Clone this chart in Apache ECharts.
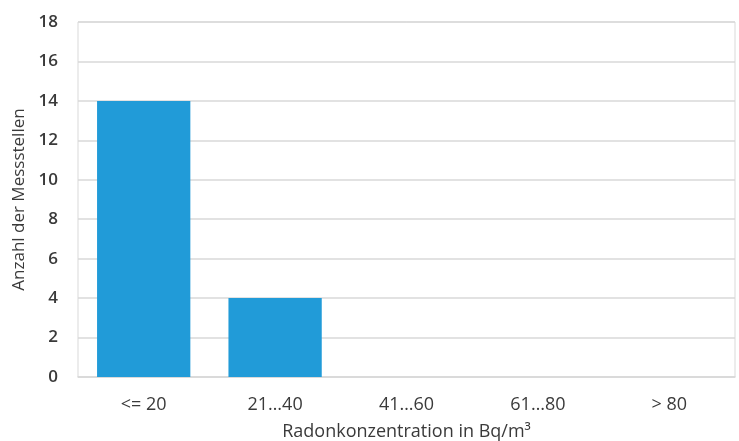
<!DOCTYPE html>
<html>
<head>
<meta charset="utf-8">
<script src="https://cdn.jsdelivr.net/npm/echarts@6/dist/echarts.min.js"></script>
<style>
  html, body { margin: 0; padding: 0; background: #fff; }
  #chart { width: 739px; height: 441px; }
</style>
</head>
<body>
<div id="chart"></div>
<script>
// Radon concentration classes and number of measuring points per class
const categories = ['<= 20', '21…40', '41…60', '61…80', '> 80'];
const counts = [14, 4, 0, 0, 0];
const yTicks = { min: 0, max: 18, interval: 2 };

const textColor = '#3a3a3a';
const fontFamily = '"Open Sans", "Noto Sans", sans-serif';

const chart = echarts.init(document.getElementById('chart'));
chart.setOption({
  animation: false,
  grid: {
    left: 78, right: 4, top: 22, bottom: 64,
    outerBoundsMode: 'none',
    containLabel: false,
    show: true, borderColor: '#d9d9d9', borderWidth: 1, backgroundColor: 'transparent'
  },
  xAxis: {
    type: 'category',
    data: categories,
    name: 'Radonkonzentration in Bq/m³',
    nameLocation: 'middle',
    nameGap: 46,
    nameTextStyle: { color: textColor, fontSize: 18, fontFamily },
    axisLine: { show: true, lineStyle: { color: '#d9d9d9', width: 1.5 } },
    axisTick: { show: false },
    axisLabel: { color: textColor, fontSize: 18, fontFamily, margin: 19 }
  },
  yAxis: {
    type: 'value',
    min: yTicks.min, max: yTicks.max, interval: yTicks.interval,
    name: 'Anzahl der Messstellen',
    nameLocation: 'middle',
    nameGap: 46,
    nameTextStyle: { color: textColor, fontSize: 17, fontFamily },
    axisLine: { show: false },
    axisTick: { show: false },
    axisLabel: { color: textColor, fontSize: 17, fontFamily, margin: 20, fontWeight: 600 },
    splitLine: { lineStyle: { color: '#d9d9d9', width: 1.5 } }
  },
  series: [{
    type: 'bar',
    data: counts,
    barWidth: '71%',
    itemStyle: { color: '#219bd8' }
  }]
});
</script>
</body>
</html>
